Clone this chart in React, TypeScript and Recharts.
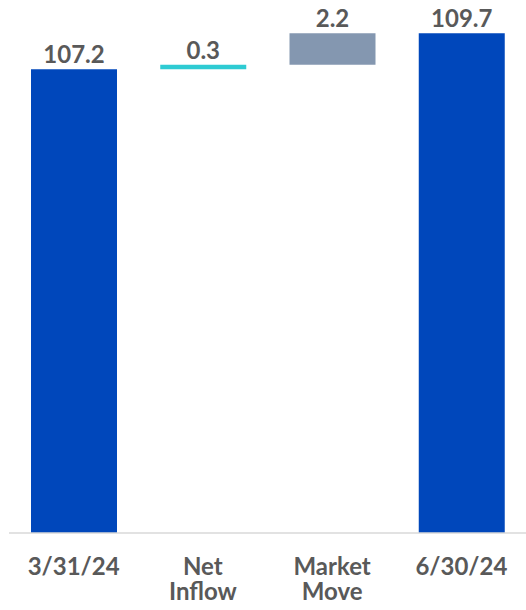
import React from 'react';
import { BarChart, Bar, XAxis, YAxis, Cell, LabelList } from 'recharts';

const categories = ['3/31/24', 'Net Inflow', 'Market Move', '6/30/24'];
const bases = [0, 107.2, 107.5, 0];
const changes = [107.2, 0.3, 2.2, 109.7];
const colors = ['#0047BB', '#2ECBD3', '#8497B0', '#0047BB'];

const data = categories.map((c, i) => ({ name: c, base: bases[i], change: changes[i] }));

const FONT = 'Lato, "DejaVu Sans", sans-serif';

const Tick = (props: any) => {
  const { x, y, payload } = props;
  const words = String(payload.value).split(' ');
  return (
    <g>
      {words.map((w, i) => (
        <text
          key={i}
          x={x}
          y={y + 34 + i * 25}
          textAnchor="middle"
          fill="#595959"
          fontFamily={FONT}
          fontWeight="bold"
          fontSize={24}
        >
          {w}
        </text>
      ))}
    </g>
  );
};

export default function App() {
  return (
    <div style={{ position: 'absolute', top: 0, left: 0 }}>
      <BarChart
        width={526}
        height={608}
        data={data}
        margin={{ top: 0, right: 0, bottom: 0, left: 9 }}
      >
        <XAxis
          dataKey="name"
          tickLine={false}
          axisLine={{ stroke: '#d9d9d9', strokeWidth: 1.5 }}
          tick={<Tick />}
          height={75}
          interval={0}
        />
        <YAxis hide domain={[75, 112]} allowDataOverflow />
        <Bar dataKey="base" stackId="a" fill="transparent" isAnimationActive={false} barSize={86} />
        <Bar dataKey="change" stackId="a" isAnimationActive={false} barSize={86}>
          {data.map((d, i) => (
            <Cell key={i} fill={colors[i]} />
          ))}
          <LabelList
            dataKey="change"
            position="top"
            offset={6}
            fill="#595959"
            fontFamily={FONT}
            fontWeight="bold"
            fontSize={24}
          />
        </Bar>
      </BarChart>
    </div>
  );
}
